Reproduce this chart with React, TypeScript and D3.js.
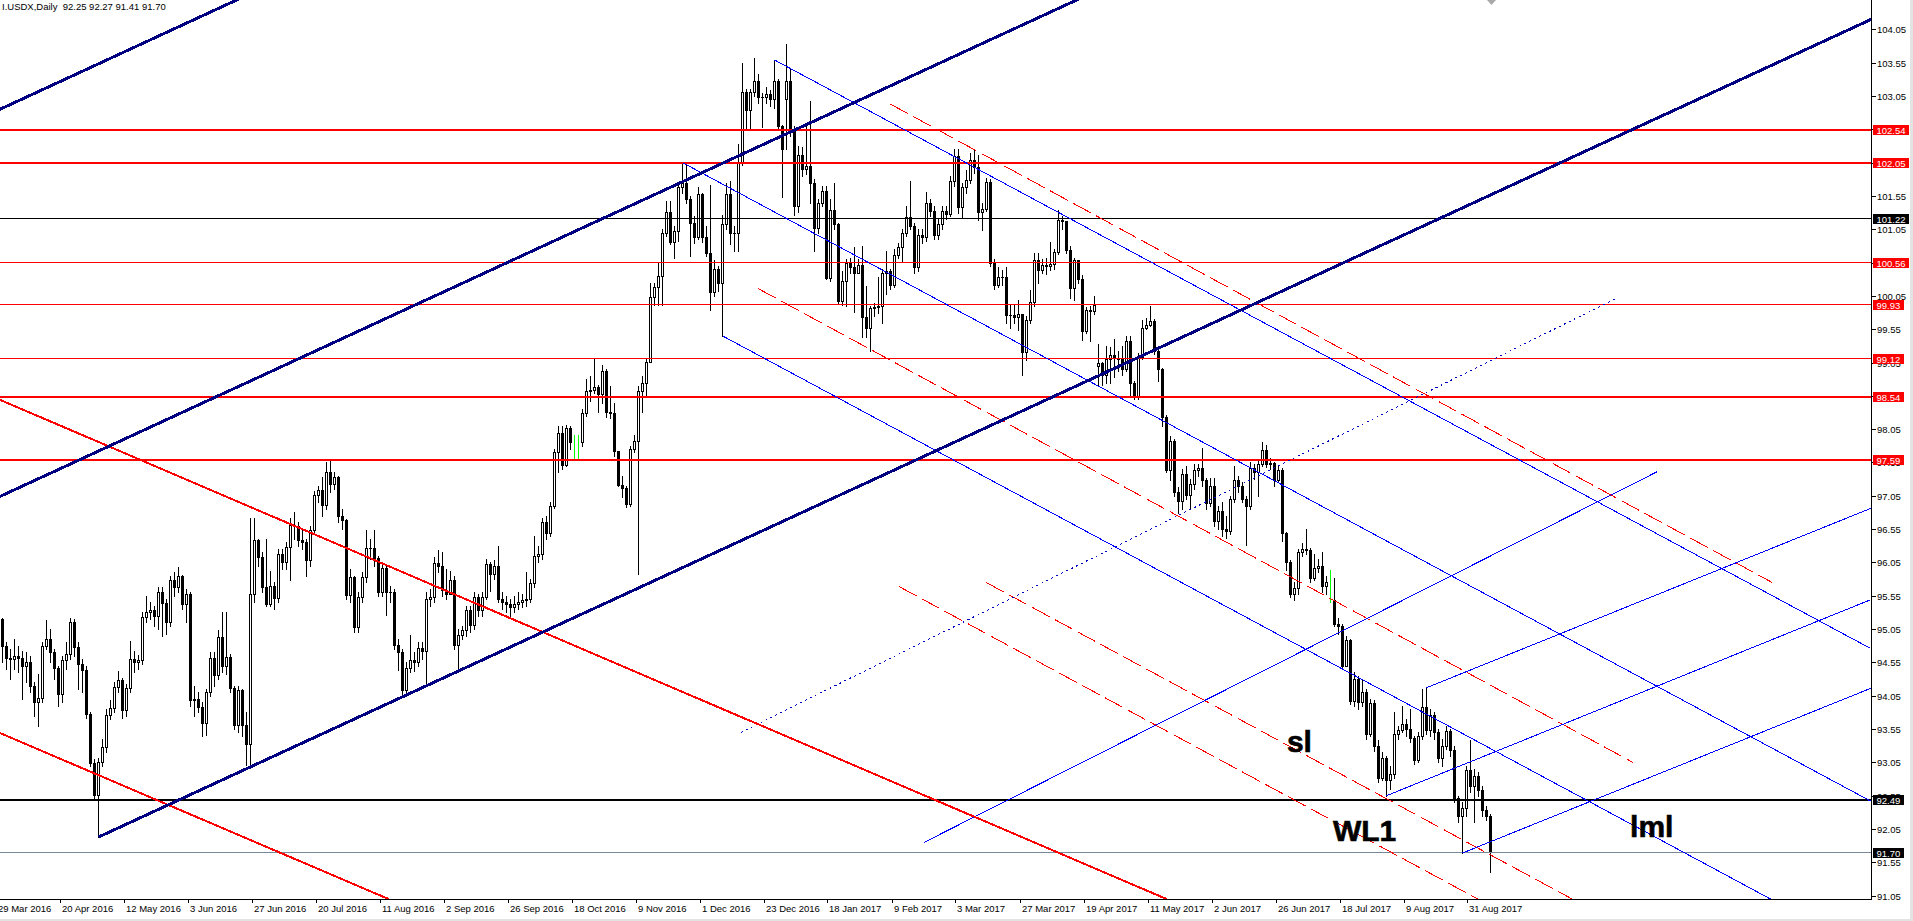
import React from 'react'
import * as d3 from 'd3'

const W = 1913
const H = 921
const PLOT_R = 1871
const PLOT_B = 899

const title = 'I.USDX,Daily  92.25 92.27 91.41 91.70'

// daily bars, 29 Mar 2016 .. 8 Sep 2017 (open = previous close unless gapped)
const firstOpen = 95.05
const openGaps: Record<number, number> = { 197: 103.0, 275: 99.0 }
const closes = [
  95.2, 94.79, 94.62, 94.6, 94.65, 94.62, 94.5, 94.55, 94.2, 93.96,
  94.02, 94.8, 94.9, 94.7, 94.47, 94.08, 94.58, 94.67, 95.16, 94.78,
  94.53, 94.44, 93.78, 93.04, 92.56, 93.06, 93.28, 93.76, 93.86, 94.18,
  94.29, 93.83, 94.16, 94.6, 94.56, 94.58, 95.23, 95.3, 95.34, 95.25,
  95.61, 95.44, 95.16, 95.78, 95.68, 95.84, 95.43, 95.57, 93.98, 94.0,
  93.88, 93.64, 94.11, 94.61, 94.36, 94.93, 94.49, 94.63, 94.16, 93.61,
  94.13, 93.61, 93.33, 95.58, 96.38, 96.13, 95.68, 95.43, 95.69, 95.51,
  96.18, 96.06, 96.28, 96.61, 96.6, 96.39, 96.36, 96.09, 96.53, 97.06,
  97.13, 96.91, 97.41, 97.23, 97.33, 96.75, 96.68, 95.56, 95.83, 95.08,
  95.53, 95.83, 96.26, 96.26, 96.11, 95.61, 95.96, 95.61, 95.6, 94.81,
  94.71, 94.13, 94.46, 94.58, 94.55, 94.76, 94.72, 95.5, 95.53, 96.04,
  95.99, 95.64, 95.58, 95.78, 94.81, 94.96, 95.03, 95.34, 95.11, 95.53,
  95.33, 95.53, 96.03, 95.87, 96.0, 95.5, 95.45, 95.42, 95.38, 95.43,
  95.45, 95.48, 95.5, 95.74, 96.14, 96.17, 96.65, 96.49, 96.89, 97.7,
  97.99, 97.51, 98.07, 97.86, 97.62, 97.86, 98.29, 98.63, 98.64, 98.69,
  98.58, 98.93, 98.31, 98.3, 97.72, 97.21, 97.16, 96.92, 97.75, 97.88,
  98.63, 98.74, 99.06, 100.03, 100.19, 100.35, 100.99, 101.31, 100.86, 101.02,
  101.69, 101.75, 101.5, 101.15, 100.94, 101.58, 100.94, 100.7, 100.11, 100.46,
  100.24, 101.13, 101.58, 100.99, 101.0, 102.04, 103.11, 102.84, 103.11, 103.27,
  103.03, 103.04, 103.08, 103.0, 103.27, 102.6, 102.25, 103.27, 102.52, 101.4,
  102.17, 101.96, 102.0, 101.74, 101.07, 101.45, 101.62, 100.32, 101.34, 101.13,
  99.98, 100.27, 100.54, 100.48, 100.4, 100.52, 99.73, 99.57, 99.87, 99.89,
  99.9, 100.4, 100.42, 100.22, 100.67, 100.78, 100.99, 101.24, 101.1, 100.48,
  100.97, 100.93, 101.45, 101.32, 100.97, 101.13, 101.32, 101.28, 101.77, 102.15,
  101.39, 101.69, 101.79, 102.09, 101.99, 101.31, 101.36, 101.76, 100.54, 100.22,
  100.34, 100.33, 99.76, 99.76, 99.74, 99.78, 99.21, 99.69, 99.96, 100.59,
  100.44, 100.52, 100.5, 100.53, 100.71, 101.19, 101.18, 100.74, 100.17, 100.59,
  100.31, 99.52, 99.84, 99.82, 99.92, 99.04, 98.86, 99.1, 99.16, 99.12,
  99.1, 98.95, 99.37, 98.74, 98.54, 99.13, 99.57, 99.62, 99.67, 99.22,
  98.95, 98.24, 97.44, 97.88, 97.11, 96.97, 97.38, 97.06, 97.23, 97.44,
  97.47, 97.29, 96.94, 97.2, 96.67, 96.82, 96.55, 96.52, 97.0, 97.29,
  97.2, 97.0, 96.9, 97.47, 97.4, 97.53, 97.74, 97.53, 97.54, 97.29,
  97.44, 96.49, 96.05, 95.57, 95.66, 96.2, 96.25, 96.24, 95.81, 95.96,
  96.0, 95.69, 95.75, 95.48, 95.13, 95.1, 94.5, 94.89, 93.97, 94.3,
  93.95, 94.1, 93.47, 93.94, 93.29, 92.81, 93.11, 92.78, 92.87, 93.47,
  93.53, 93.62, 93.55, 93.41, 93.08, 93.44, 93.88, 93.53, 93.76, 93.5,
  93.11, 93.29, 93.52, 93.23, 92.52, 92.25, 92.37, 92.93, 92.7, 92.84,
  92.64, 92.34, 92.25, 91.7,
]
const highs = [
  95.3, 95.21, 94.85, 94.75, 94.9, 94.8, 94.72, 94.7, 94.65, 94.25,
  94.38, 94.85, 95.18, 95.05, 94.75, 94.5, 94.65, 94.85, 95.22, 95.2,
  94.85, 94.6, 94.5, 93.8, 93.1, 93.12, 93.4, 93.85, 93.98, 94.25,
  94.42, 94.32, 94.22, 94.87, 94.72, 94.66, 95.3, 95.54, 95.45, 95.4,
  95.68, 95.68, 95.5, 95.85, 95.9, 95.98, 95.86, 95.65, 95.6, 94.2,
  94.1, 93.95, 94.15, 94.7, 94.7, 95.03, 95.31, 95.31, 94.68, 94.2,
  94.2, 94.15, 93.8, 96.71, 96.71, 96.4, 96.2, 96.4, 95.92, 95.75,
  96.25, 96.25, 96.35, 96.71, 96.8, 96.65, 96.55, 96.4, 96.6, 97.12,
  97.2, 97.33, 97.56, 97.58, 97.4, 97.35, 96.85, 96.7, 95.95, 95.85,
  95.6, 95.9, 96.54, 96.4, 96.54, 96.15, 96.05, 96.0, 95.7, 95.65,
  94.9, 94.75, 94.55, 94.96, 94.7, 94.85, 94.85, 95.6, 95.65, 96.13,
  96.23, 96.21, 95.95, 95.92, 95.85, 95.05, 95.1, 95.4, 95.4, 95.6,
  95.58, 95.6, 96.1, 96.05, 96.08, 96.3, 95.6, 95.55, 95.5, 95.55,
  95.6, 95.58, 95.9, 95.8, 96.44, 96.3, 96.72, 96.75, 96.95, 97.75,
  98.1, 98.1, 98.12, 98.1, 97.96, 97.96, 98.35, 98.8, 98.85, 99.12,
  98.72, 99.01, 98.95, 98.7, 98.45, 97.72, 97.35, 97.2, 97.8, 97.96,
  98.7, 98.85, 99.1, 100.25, 100.25, 100.56, 101.05, 101.48, 101.48, 101.1,
  101.75, 102.05, 102.04, 101.55, 101.25, 101.69, 101.6, 101.1, 101.72, 100.59,
  100.5, 101.26, 101.75, 101.77, 101.1, 102.33, 103.54, 103.15, 103.15, 103.62,
  103.38, 103.1, 103.19, 103.14, 103.59, 103.3, 102.62, 103.83, 103.45, 102.6,
  102.3, 102.28, 102.63, 102.97, 101.8, 101.5, 101.7, 101.7, 101.5, 101.75,
  101.15, 100.43, 100.6, 100.62, 100.78, 100.6, 100.8, 100.2, 99.9, 99.95,
  100.33, 100.45, 100.72, 100.45, 100.75, 100.85, 101.05, 101.4, 101.77, 101.15,
  101.05, 101.05, 101.61, 101.5, 101.4, 101.2, 101.4, 101.4, 101.85, 102.25,
  102.26, 101.75, 101.94, 102.19, 102.24, 102.17, 101.45, 101.82, 101.8, 100.6,
  100.49, 100.44, 100.49, 99.92, 99.92, 99.99, 99.78, 99.75, 100.14, 100.69,
  100.69, 100.6, 100.62, 100.86, 100.76, 101.34, 101.25, 101.09, 100.8, 100.62,
  100.55, 100.36, 99.88, 99.9, 100.05, 99.33, 99.06, 99.3, 99.28, 99.4,
  99.22, 99.3, 99.45, 99.45, 98.78, 99.2, 99.69, 99.72, 99.9, 99.7,
  99.25, 98.97, 98.26, 97.95, 97.9, 97.18, 97.45, 97.5, 97.3, 97.53,
  97.53, 97.77, 97.32, 97.32, 97.32, 96.9, 96.95, 96.75, 97.05, 97.5,
  97.35, 97.25, 97.05, 97.56, 97.52, 97.6, 97.86, 97.82, 97.62, 97.56,
  97.5, 97.46, 96.5, 96.08, 95.75, 96.25, 96.34, 96.55, 96.26, 96.17,
  96.1, 96.2, 95.85, 95.93, 95.81, 95.22, 95.12, 94.95, 94.9, 94.4,
  94.35, 94.3, 94.15, 94.0, 93.99, 93.38, 93.2, 93.15, 93.0, 93.8,
  93.6, 93.9, 93.7, 93.85, 93.45, 93.5, 94.15, 94.17, 93.85, 93.8,
  93.55, 93.4, 93.6, 93.55, 93.3, 92.55, 92.45, 93.0, 93.38, 92.95,
  92.9, 92.7, 92.4, 92.27,
]
const lows = [
  94.95, 94.56, 94.45, 94.3, 94.45, 94.4, 94.0, 94.25, 94.1, 93.74,
  93.6, 93.95, 94.75, 94.55, 94.3, 93.9, 93.95, 94.45, 94.6, 94.65,
  94.15, 94.1, 93.72, 93.0, 92.5, 91.93, 93.0, 93.2, 93.7, 93.8,
  94.1, 93.72, 93.74, 94.1, 94.4, 94.45, 94.52, 95.15, 95.2, 95.1,
  95.05, 94.95, 94.98, 95.1, 95.55, 95.6, 95.35, 95.15, 93.9, 93.75,
  93.8, 93.44, 93.46, 94.05, 94.2, 94.3, 94.4, 94.38, 94.1, 93.55,
  93.5, 93.45, 93.01, 93.01, 95.45, 96.0, 95.6, 95.4, 95.4, 95.35,
  95.45, 95.95, 95.95, 95.78, 96.4, 96.3, 96.25, 95.84, 96.0, 96.5,
  96.95, 96.74, 96.85, 97.1, 97.15, 96.65, 96.55, 95.5, 95.45, 95.0,
  95.0, 95.45, 95.75, 96.1, 96.0, 95.55, 95.55, 95.26, 95.45, 94.75,
  94.43, 94.03, 94.05, 94.4, 94.42, 94.5, 94.6, 94.24, 95.4, 95.45,
  95.9, 95.55, 95.5, 95.6, 94.75, 94.46, 94.9, 94.95, 95.0, 95.05,
  95.25, 95.25, 95.5, 95.62, 95.8, 95.45, 95.35, 95.3, 95.25, 95.3,
  95.35, 95.38, 95.4, 95.45, 95.68, 96.05, 96.1, 96.4, 96.45, 96.86,
  97.4, 97.45, 97.5, 97.75, 97.58, 97.64, 97.8, 98.25, 98.47, 98.6,
  98.31, 98.45, 98.23, 98.22, 97.65, 97.19, 97.03, 96.88, 96.9, 97.7,
  95.87, 98.31, 98.55, 99.09, 99.92, 99.92, 99.92, 100.95, 100.83, 100.62,
  100.88, 101.6, 101.45, 100.65, 100.85, 100.9, 100.86, 100.65, 99.84, 100.05,
  100.13, 99.45, 101.05, 100.83, 100.73, 100.73, 102.01, 102.55, 102.55, 103.05,
  102.95, 102.58, 102.95, 102.9, 102.87, 102.55, 101.53, 102.25, 102.45, 101.26,
  101.31, 101.85, 101.88, 101.45, 100.72, 101.0, 101.4, 100.3, 100.28, 101.05,
  99.95, 99.92, 99.9, 100.4, 99.81, 100.4, 99.44, 99.44, 99.23, 99.75,
  99.8, 99.65, 100.08, 100.15, 100.18, 100.62, 100.56, 100.95, 101.05, 100.4,
  100.42, 100.85, 100.88, 101.25, 100.9, 100.9, 101.05, 101.2, 101.25, 101.7,
  101.3, 101.22, 101.6, 101.75, 101.9, 101.19, 101.04, 101.33, 100.5, 100.15,
  100.18, 100.22, 99.64, 99.57, 99.64, 99.54, 98.86, 99.09, 99.64, 99.9,
  100.24, 100.4, 100.38, 100.44, 100.46, 100.68, 101.05, 100.7, 100.02, 99.99,
  100.25, 99.39, 99.5, 99.38, 99.78, 98.71, 98.71, 98.75, 98.75, 98.83,
  98.92, 98.86, 98.92, 98.57, 98.5, 98.5, 99.1, 99.55, 99.6, 99.18,
  98.77, 98.1, 97.4, 97.29, 97.05, 96.79, 96.85, 97.0, 96.85, 97.15,
  97.35, 97.2, 96.85, 96.9, 96.6, 96.55, 96.45, 96.42, 96.48, 96.95,
  97.1, 96.95, 96.31, 96.85, 97.3, 97.05, 97.5, 97.48, 97.45, 97.2,
  97.25, 96.37, 95.93, 95.53, 95.48, 95.58, 96.15, 96.18, 95.75, 95.78,
  95.9, 95.6, 95.57, 95.45, 95.1, 94.98, 94.45, 94.5, 93.92, 93.9,
  93.85, 93.9, 93.4, 93.45, 93.22, 92.75, 92.78, 92.55, 92.65, 92.82,
  93.4, 93.5, 93.45, 93.35, 93.02, 93.05, 93.4, 93.48, 93.45, 93.4,
  93.05, 93.0, 93.25, 93.15, 92.45, 92.15, 91.69, 92.25, 92.6, 92.15,
  92.55, 92.25, 92.18, 91.41,
]
const greenBars = [144, 145, 333]

const dateLabels = [
  '29 Mar 2016', '20 Apr 2016', '12 May 2016', '3 Jun 2016', '27 Jun 2016', '20 Jul 2016',
  '11 Aug 2016', '2 Sep 2016', '26 Sep 2016', '18 Oct 2016', '9 Nov 2016', '1 Dec 2016',
  '23 Dec 2016', '18 Jan 2017', '9 Feb 2017', '3 Mar 2017', '27 Mar 2017', '19 Apr 2017',
  '11 May 2017', '2 Jun 2017', '26 Jun 2017', '18 Jul 2017', '9 Aug 2017', '31 Aug 2017',
]
const barsPerLabel = 16

const priceTicks = [
  91.05, 91.55, 92.05, 92.55, 93.05, 93.55, 94.05, 94.55, 95.05, 95.55, 96.05, 96.55, 97.05, 97.55,
  98.05, 98.55, 99.05, 99.55, 100.05, 100.55, 101.05, 101.55, 102.05, 102.55, 103.05, 103.55, 104.05,
]

// horizontal levels
const levels = [102.54, 102.05, 101.22, 100.56, 99.93, 99.12, 98.54, 97.59, 92.49, 91.7]

// trend lines as [bar1, price1, bar2, price2]
const channelLines = [
  [0, 102.84, 70, 104.78],
  [0, 97.03, 280, 104.78],
  [25, 91.93, 470, 104.25],
]
const redTrendLines = [
  [0, 98.5, 292, 91.0],
  [0, 93.5, 97.5, 91.0],
]
const forkLines = [
  [171, 102.05, 468, 92.47],
  [194, 103.59, 468, 94.76],
  [181, 99.45, 443, 91.0],
  [347, 92.55, 468, 95.49],
  [357, 94.17, 468, 96.86],
  [366, 91.69, 468, 94.16],
  [231.4, 91.85, 414.6, 97.41],
]
const dottedLines = [[185.6, 93.5, 404, 100.0]]
const dashedLines = [
  [222.9, 102.93, 443.4, 95.75],
  [189.9, 100.16, 408.6, 93.05],
  [225.1, 95.69, 369.8, 91.0],
  [246.9, 95.75, 393.4, 91.0],
]
const notes = [
  { text: 'sl', bar: 322.1, price: 93.2 },
  { text: 'WL1', bar: 333.6, price: 91.87 },
  { text: 'lml', bar: 407.9, price: 91.93 },
]

const levelStyle = [
  { color: '#ff0000', bg: '#ff0000', w: 2 },
  { color: '#ff0000', bg: '#ff0000', w: 2 },
  { color: '#000000', bg: '#000000', w: 1 },
  { color: '#ff0000', bg: '#ff0000', w: 1 },
  { color: '#ff0000', bg: '#ff0000', w: 1 },
  { color: '#ff0000', bg: '#ff0000', w: 1 },
  { color: '#ff0000', bg: '#ff0000', w: 2 },
  { color: '#ff0000', bg: '#ff0000', w: 2 },
  { color: '#000000', bg: '#000000', w: 2 },
  { color: '#778899', bg: '#000000', w: 1 },
]

const FONT = "'Liberation Sans', Arial, sans-serif"

export default function App() {
  const x = d3.scaleLinear().domain([0, 468]).range([-1.5, 1870.5])
  const y = d3.scaleLinear().domain([91.0, 104.49]).range([PLOT_B, 0])

  const crispY = (p: number, w: number) => Math.round(y(p)) + (w % 2 ? 0.5 : 0)

  const seg = (s: number[], k: string, stroke: string, width: number, dash?: string) => (
    <line
      key={k}
      x1={x(s[0])}
      y1={y(s[1])}
      x2={x(s[2])}
      y2={y(s[3])}
      stroke={stroke}
      strokeWidth={width}
      strokeDasharray={dash}
      shapeRendering="crispEdges"
    />
  )

  const candles = closes.map((c, i) => {
    const o = i === 0 ? firstOpen : openGaps[i] ?? closes[i - 1]
    const h = Math.max(highs[i], o, c)
    const l = Math.min(lows[i], o, c)
    const cx = Math.round(x(i) - 0.5) + 0.5
    const yh = Math.round(y(h))
    const yl = Math.round(y(l)) + 1
    if (greenBars.includes(i)) {
      return <line key={i} x1={cx} x2={cx} y1={yh} y2={yl} stroke="#00ff00" strokeWidth={1} />
    }
    const t = Math.round(y(Math.max(o, c))) + 0.5
    const b = Math.round(y(Math.min(o, c))) + 0.5
    const up = c >= o
    return (
      <g key={i}>
        <line x1={cx} x2={cx} y1={yh} y2={yl} stroke="#000" strokeWidth={1} />
        {b - t < 1 ? (
          <line x1={cx - 1.5} x2={cx + 1.5} y1={t} y2={t} stroke="#000" strokeWidth={1} />
        ) : (
          <rect x={cx - 1} y={t} width={2} height={b - t} fill={up ? '#fff' : '#000'} stroke="#000" strokeWidth={1} />
        )}
      </g>
    )
  })

  return (
    <svg
      width={W}
      height={H}
      style={{ position: 'absolute', left: 0, top: 0, display: 'block', background: '#fff' }}
      fontFamily={FONT}
    >
      <defs>
        <clipPath id="plot">
          <rect x={0} y={0} width={PLOT_R} height={PLOT_B} />
        </clipPath>
      </defs>
      <rect x={0} y={0} width={W} height={H} fill="#fff" />
      <rect x={1910} y={0} width={3} height={H} fill="#e3e3e3" />
      <rect x={0} y={919} width={W} height={2} fill="#e3e3e3" />

      <g shapeRendering="crispEdges">{candles}</g>

      <g clipPath="url(#plot)">
        {levels.map((p, i) => (
          <line
            key={'lv' + i}
            x1={0}
            x2={PLOT_R}
            y1={crispY(p, levelStyle[i].w)}
            y2={crispY(p, levelStyle[i].w)}
            stroke={levelStyle[i].color}
            strokeWidth={levelStyle[i].w}
            shapeRendering="crispEdges"
          />
        ))}
        {dashedLines.map((s, i) => seg(s, 'ds' + i, '#ff0000', 1, '20 6'))}
        {dottedLines.map((s, i) => seg(s, 'dt' + i, '#0000c0', 1, '2 3.5'))}
        {forkLines.map((s, i) => seg(s, 'fk' + i, '#0000ff', 1))}
        {redTrendLines.map((s, i) => seg(s, 'rt' + i, '#ff0000', 2))}
        {channelLines.map((s, i) => seg(s, 'ch' + i, '#000080', 3))}
        {notes.map((n) => (
          <text
            key={n.text}
            x={x(n.bar)}
            y={y(n.price)}
            fontSize={30}
            fontWeight="bold"
            fill="#000"
            stroke="#000"
            strokeWidth={0.6}
          >
            {n.text}
          </text>
        ))}
      </g>

      {/* chart shift marker */}
      <polygon points="1487,0 1496,0 1491.5,5" fill="#a9a9a9" />

      {/* axes */}
      <line x1={PLOT_R + 0.5} x2={PLOT_R + 0.5} y1={0} y2={PLOT_B + 1} stroke="#000" shapeRendering="crispEdges" />
      <line x1={0} x2={PLOT_R + 1} y1={PLOT_B + 0.5} y2={PLOT_B + 0.5} stroke="#000" shapeRendering="crispEdges" />

      {priceTicks.map((p) => {
        const yy = Math.round(y(p)) + 0.5
        return (
          <g key={'pt' + p}>
            <line x1={PLOT_R + 1} x2={PLOT_R + 5} y1={yy} y2={yy} stroke="#000" shapeRendering="crispEdges" />
            <text x={1877} y={yy + 3.5} fontSize={9.5} fill="#000">
              {p.toFixed(2)}
            </text>
          </g>
        )
      })}

      {levels.map((p, i) => {
        const yy = crispY(p, levelStyle[i].w)
        const label = p.toFixed(2)
        const w = label.length > 5 ? 36 : 31
        return (
          <g key={'ll' + i}>
            <rect x={1873} y={Math.round(yy) - 5} width={w} height={10} fill={levelStyle[i].bg} />
            <text x={1876.5} y={Math.round(yy) + 3.5} fontSize={9.5} fill="#fff">
              {label}
            </text>
          </g>
        )
      })}

      {dateLabels.map((d, k) => {
        const xx = Math.round(x(k * barsPerLabel))
        return (
          <g key={'dl' + k}>
            <line x1={xx - 2.5} x2={xx - 2.5} y1={PLOT_B + 1} y2={PLOT_B + 4} stroke="#000" shapeRendering="crispEdges" />
            <text x={xx - 1} y={912} fontSize={9.5} fill="#000">
              {d}
            </text>
          </g>
        )
      })}

      <text x={2} y={9.5} fontSize={9.5} fill="#000" style={{ whiteSpace: 'pre' }}>
        {title}
      </text>
    </svg>
  )
}
